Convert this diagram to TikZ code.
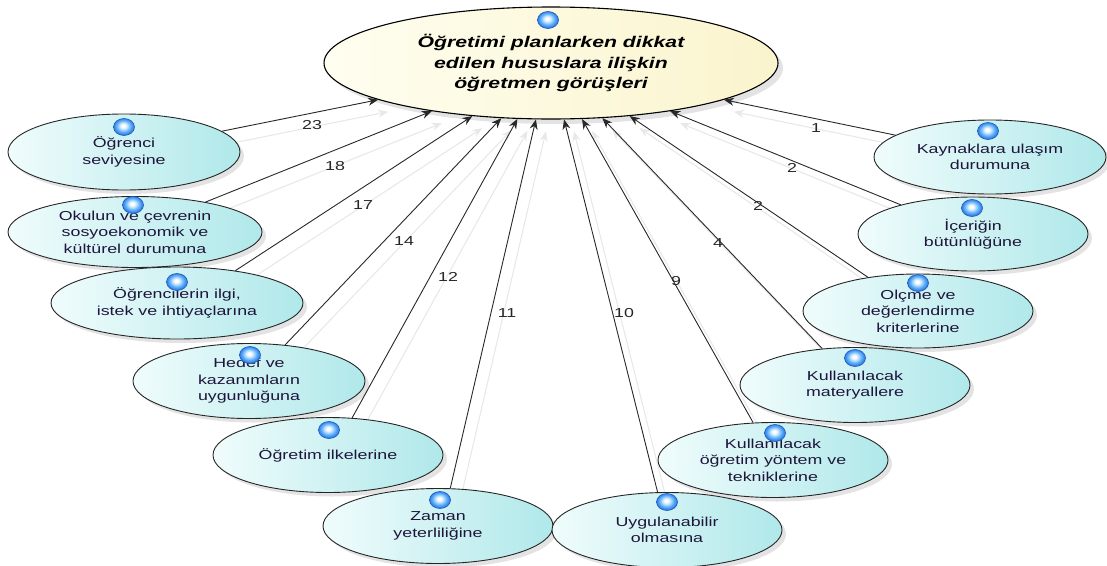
\documentclass[tikz,border=0pt]{standalone}
\usepackage{fontspec}
\setmainfont{Liberation Sans}
\newfontfamily\lblfont[FakeStretch=1.37]{Liberation Sans}
\usetikzlibrary{shapes.geometric,shadows,arrows.meta}
\definecolor{cyanL}{RGB}{240,252,252}
\definecolor{cyanR}{RGB}{176,232,234}
\definecolor{creamL}{RGB}{255,254,240}
\definecolor{creamR}{RGB}{250,244,205}
\definecolor{txtc}{RGB}{30,22,60}
\definecolor{ballc}{RGB}{95,175,250}
\definecolor{ballm}{RGB}{200,230,255}
\definecolor{ballr}{RGB}{40,120,225}
\definecolor{ballb}{RGB}{30,90,190}
\definecolor{linec}{RGB}{40,40,40}
\definecolor{shadec}{RGB}{232,232,232}
\pgfdeclarelayer{bg}
\pgfsetlayers{bg,main}
\pgfdeclareradialshading{bluesphere}{\pgfpoint{-2bp}{4bp}}{%
  color(0bp)=(white); color(4bp)=(white); color(9bp)=(ballm); color(17bp)=(ballc);
  color(25bp)=(ballr); color(50bp)=(ballr)}
\begin{document}
\begin{tikzpicture}[x=1pt,y=-1pt,
  outer/.style={ellipse, draw=black!85, line width=0.9pt, left color=cyanL, right color=cyanR,
    inner sep=0pt, minimum width=230pt, minimum height=75pt, align=center,
    font=\lblfont\fontsize{13}{16.5}\selectfont, text=txtc,
    drop shadow={shadow xshift=4pt, shadow yshift=-4pt, opacity=0.22}},
  mainell/.style={ellipse, draw=black, line width=1.1pt, left color=creamL, right color=creamR,
    inner sep=0pt, minimum width=454pt, minimum height=112pt, align=center,
    font=\lblfont\bfseries\itshape\fontsize{15.5}{20.5}\selectfont, text=black,
    drop shadow={shadow xshift=5pt, shadow yshift=-5pt, opacity=0.22}},
  ballnode/.style={ellipse, minimum width=21pt, minimum height=17pt, inner sep=0pt,
    shading=bluesphere, draw=ballb, line width=0.6pt},
  conn/.style={draw=linec, line width=0.9pt, -{Stealth[length=10pt,width=8pt]}},
  shadeconn/.style={draw=shadec, line width=1.1pt, -{Stealth[length=10pt,width=8pt]},
    transform canvas={xshift=10pt,yshift=-12pt}},
  numlbl/.style={font=\lblfont\fontsize{13}{16}\selectfont, text=black!85, inner sep=0pt}
]
\useasboundingbox (0,0) rectangle (1107,565);

% central node
\node[mainell] (main) at (551,63) {Öğretimi planlarken dikkat\\edilen hususlara ilişkin\\öğretmen görüşleri};

% outer nodes
\node[outer, minimum width=232pt, minimum height=76pt] (a1) at (124,152) {Öğrenci\\seviyesine};
\node[outer, minimum width=254pt, minimum height=71pt] (a2) at (135,232) {Okulun ve çevrenin\\sosyoekonomik ve\\kültürel durumuna};
\node[outer, minimum width=252pt, minimum height=72pt] (a3) at (177,303) {Öğrencilerin ilgi,\\istek ve ihtiyaçlarına};
\node[outer, minimum width=232pt] (a4) at (249,381) {Hedef ve\\kazanımların\\uygunluğuna};
\node[outer] (a5) at (328,455) {Öğretim ilkelerine};
\node[outer] (a6) at (438,526) {Zaman\\yeterliliğine};
\node[outer] (b1) at (667,530) {Uygulanabilir\\olmasına};
\node[outer] (b2) at (773,460) {Kullanılacak\\öğretim yöntem ve\\tekniklerine};
\node[outer] (b3) at (855,385) {Kullanılacak\\materyallere};
\node[outer, minimum height=74pt] (b4) at (918,311) {Olçme ve\\değerlendirme\\kriterlerine};
\node[outer, minimum height=74pt] (b5) at (973,234) {İçeriğin\\bütünlüğüne};
\node[outer, minimum width=232pt, minimum height=74pt] (b6) at (990,157) {Kaynaklara ulaşım\\durumuna};

% shadow connectors (behind the shapes)
\begin{pgfonlayer}{bg}
\draw[shadeconn] (a1.12.7) -- (main.192);
\draw[shadeconn] (a2.23.3) -- (main.202.4);
\draw[shadeconn] (a3.29.4) -- (main.214.2);
\draw[shadeconn] (a4.45) -- (main.228);
\draw[shadeconn] (a5.57) -- (main.239);
\draw[shadeconn] (a6.72.5) -- (main.255);
\draw[shadeconn] (b1.104.7) -- (main.283);
\draw[shadeconn] (b2.118.9) -- (main.299.5);
\draw[shadeconn] (b3.132.6) -- (main.313.5);
\draw[shadeconn] (b4.146.8) -- (main.326.3);
\draw[shadeconn] (b5.158.5) -- (main.338.5);
\draw[shadeconn] (b6.167.8) -- (main.348);
\end{pgfonlayer}

% connectors
\draw[conn] (a1.12.7) -- (main.192);
\draw[conn] (a2.23.3) -- (main.202.4);
\draw[conn] (a3.29.4) -- (main.214.2);
\draw[conn] (a4.45) -- (main.228);
\draw[conn] (a5.57) -- (main.239);
\draw[conn] (a6.72.5) -- (main.255);
\draw[conn] (b1.104.7) -- (main.283);
\draw[conn] (b2.118.9) -- (main.299.5);
\draw[conn] (b3.132.6) -- (main.313.5);
\draw[conn] (b4.146.8) -- (main.326.3);
\draw[conn] (b5.158.5) -- (main.338.5);
\draw[conn] (b6.167.8) -- (main.348);

% number labels
\node[numlbl] (l1) at (312,125) {23};
\node[numlbl] (l2) at (335,166) {18};
\node[numlbl] (l3) at (363,205) {17};
\node[numlbl] (l4) at (404,241) {14};
\node[numlbl] (l5) at (448,277) {12};
\node[numlbl] (l6) at (507,313) {11};
\node[numlbl] (l7) at (624,313) {10};
\node[numlbl] (l8) at (676,281) {9};
\node[numlbl] (l9) at (718,243) {4};
\node[numlbl] (l10) at (758,206) {2};
\node[numlbl] (l11) at (792,168) {2};
\node[numlbl] (l12) at (816,128) {1};

% balls
\node[ballnode] (k0) at (548,20) {};
\node[ballnode] (k1) at (124,127) {};
\node[ballnode] (k2) at (133,205) {};
\node[ballnode] (k3) at (177,282) {};
\node[ballnode] (k4) at (250,355) {};
\node[ballnode] (k5) at (329,430) {};
\node[ballnode] (k6) at (440,500) {};
\node[ballnode] (k7) at (667,502) {};
\node[ballnode] (k8) at (775,433) {};
\node[ballnode] (k9) at (855,358) {};
\node[ballnode] (k10) at (918,283) {};
\node[ballnode] (k11) at (972,208) {};
\node[ballnode] (k12) at (988,131) {};
\end{tikzpicture}
\end{document}
